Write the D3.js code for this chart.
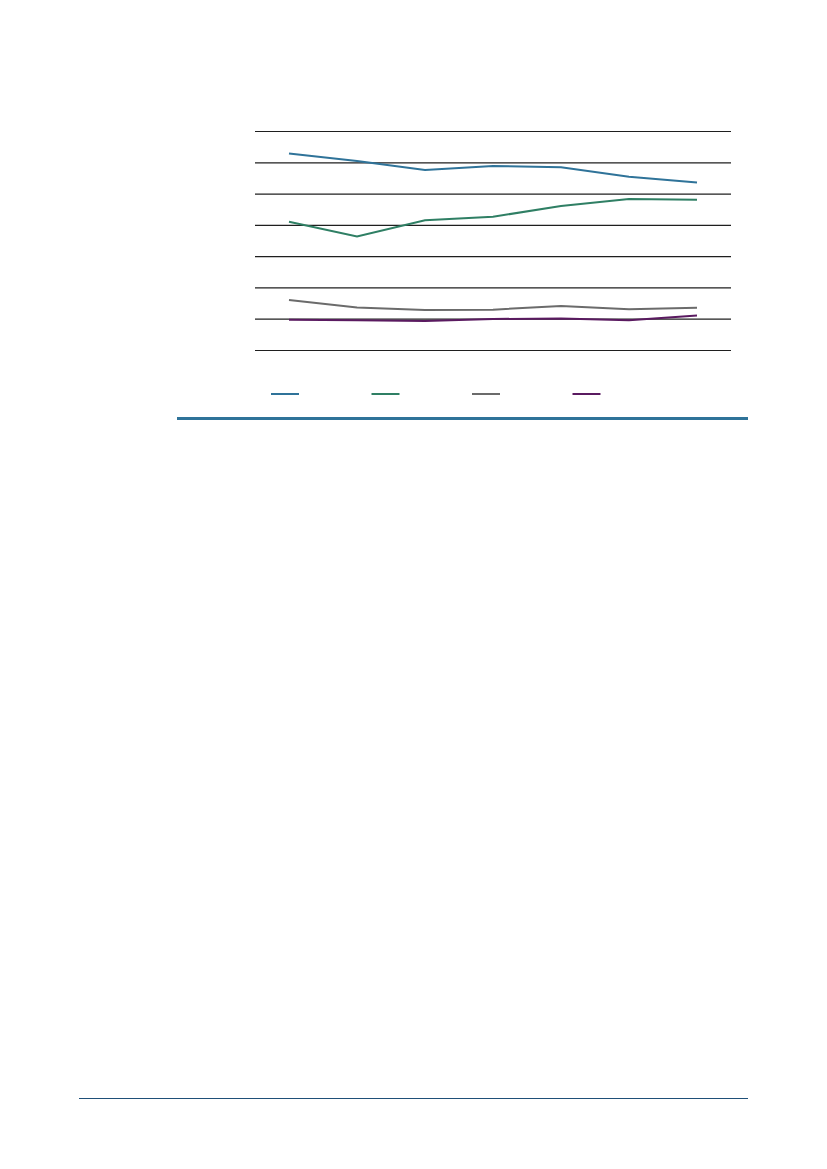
<!DOCTYPE html>
<html>
<head>
<meta charset="utf-8">
<script src="https://cdn.jsdelivr.net/npm/d3@7"></script>
<style>
  body { margin: 0; background: #fff; }
</style>
</head>
<body>
<div id="chart"></div>
<script>
const categories = ["1", "2", "3", "4", "5", "6", "7"];
const seriesBlue = [62.8, 60.4, 57.5, 58.8, 58.4, 55.4, 53.5];
const seriesGreen = [41.0, 36.3, 41.5, 42.6, 46.0, 48.3, 48.0];
const seriesGray = [16.0, 13.6, 12.8, 12.9, 14.1, 13.0, 13.5];
const seriesPurple = [9.7, 9.5, 9.3, 9.9, 10.1, 9.5, 11.0];
const yTicks = [0, 10, 20, 30, 40, 50, 60, 70];

const width = 827;
const height = 1169;

const series = [
  { values: seriesBlue, color: "#2f7399" },
  { values: seriesGreen, color: "#2f7f64" },
  { values: seriesGray, color: "#6b6b6b" },
  { values: seriesPurple, color: "#5a1a60" }
];

const svg = d3
  .select("#chart")
  .append("svg")
  .attr("width", width)
  .attr("height", height);

const plot = { left: 255, right: 731, top: 131, bottom: 350 };

const x = d3
  .scalePoint()
  .domain(categories)
  .range([plot.left, plot.right])
  .padding(0.5);

const y = d3
  .scaleLinear()
  .domain([0, 70])
  .range([plot.bottom, plot.top]);

// gridlines only, no labels
const grid = svg
  .append("g")
  .attr("transform", `translate(${plot.left},0)`)
  .call(
    d3.axisLeft(y)
      .tickValues(yTicks)
      .tickSize(-(plot.right - plot.left))
      .tickFormat("")
  );
grid.select(".domain").remove();
grid.selectAll(".tick line")
  .attr("stroke", "#1f1f1f")
  .attr("stroke-width", 1.2);

const line = d3
  .line()
  .x((d, i) => x(categories[i]))
  .y((d) => y(d));

svg
  .selectAll("path.series")
  .data(series)
  .join("path")
  .attr("class", "series")
  .attr("fill", "none")
  .attr("stroke", (d) => d.color)
  .attr("stroke-width", 2)
  .attr("d", (d) => line(d.values));

// legend swatches
const legend = svg
  .append("g")
  .selectAll("line")
  .data(series)
  .join("line")
  .attr("x1", (d, i) => 271 + i * 100.5)
  .attr("x2", (d, i) => 299 + i * 100.5)
  .attr("y1", 394)
  .attr("y2", 394)
  .attr("stroke", (d) => d.color)
  .attr("stroke-width", 2);

// thick rule under the chart
svg
  .append("rect")
  .attr("x", 177)
  .attr("y", 417)
  .attr("width", 571)
  .attr("height", 3)
  .attr("fill", "#2f7399");

// page footer rule
svg
  .append("rect")
  .attr("x", 79)
  .attr("y", 1098)
  .attr("width", 669)
  .attr("height", 1)
  .attr("fill", "#1f4f78");
</script>
</body>
</html>
